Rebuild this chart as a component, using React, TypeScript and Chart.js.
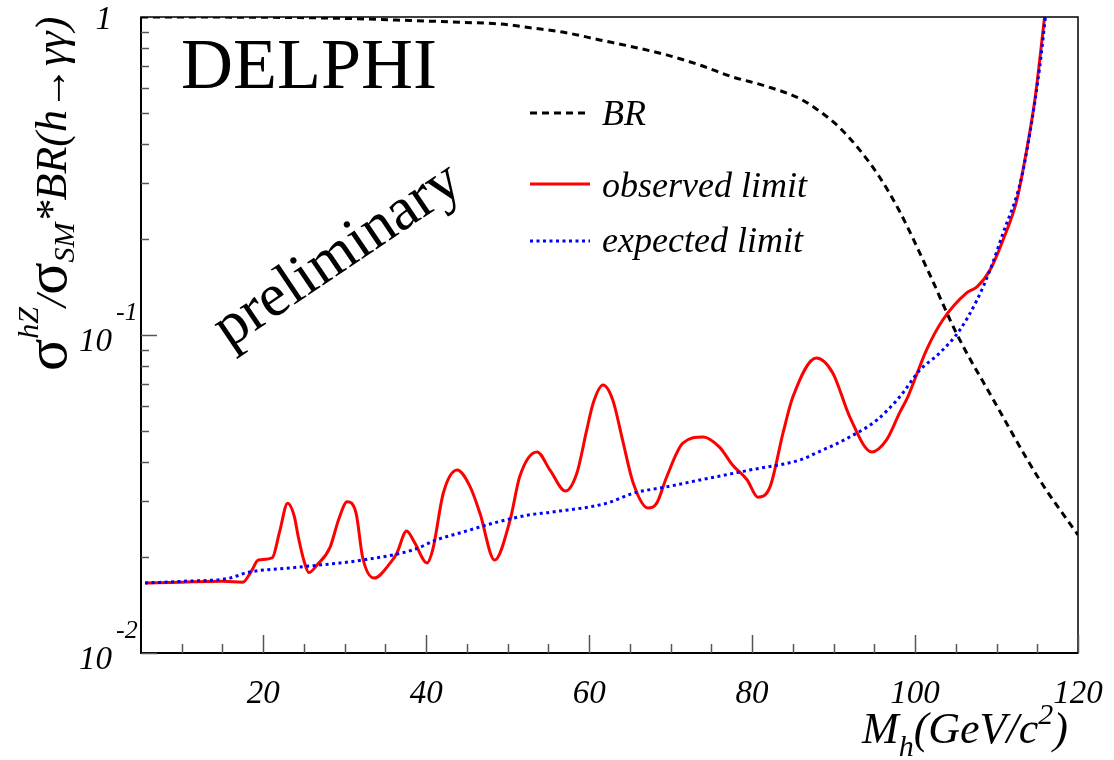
import React, { useEffect, useRef } from "react";
import { Chart, registerables } from "chart.js";

Chart.register(...registerables);

// ---------- data ----------
const obsMass = [
  5.5, 10, 15, 17.5, 18.5, 19.4, 21.1, 22.0, 23.0, 23.8, 24.3, 25.0, 25.6, 26.6, 28.2, 29.3, 30.3, 31.4,
  32.2, 33.6, 35.6, 36.4, 37.6, 38.6, 40.1, 40.8, 42.1, 43.8, 45.4, 46.6, 48.4, 50.3, 51.5, 53.6, 55.2,
  57.1, 58.5, 59.7, 60.5, 61.7, 62.9, 64.1, 65.4, 67.2, 68.3, 69.5, 71.5, 74.0, 76.0, 77.6, 79.4, 80.7,
  82.2, 83.8, 85.0, 87.9, 89.9, 92.0, 94.7, 96.5, 98.1, 99.1, 101.4, 103.4, 106.3, 107.6, 109.2, 110.8,
  112.5, 113.7, 114.7, 115.9,
];
const obsLimit = [
  0.0166, 0.0167, 0.0168, 0.0167, 0.018, 0.0196, 0.0199, 0.024, 0.0296, 0.027, 0.0232, 0.0195, 0.0179,
  0.0189, 0.0215, 0.0265, 0.0299, 0.0275, 0.02, 0.0172, 0.0192, 0.0206, 0.0242, 0.0222, 0.0192, 0.0211,
  0.0318, 0.0376, 0.0333, 0.0275, 0.0196, 0.0262, 0.036, 0.0429, 0.0376, 0.0323, 0.0368, 0.0502, 0.0611,
  0.0696, 0.0625, 0.0468, 0.0343, 0.0286, 0.0296, 0.0357, 0.0457, 0.0478, 0.0444, 0.039, 0.035, 0.0309,
  0.0333, 0.0492, 0.0638, 0.0847, 0.076, 0.0552, 0.0429, 0.0468, 0.0569, 0.0638, 0.0897, 0.1115, 0.1355,
  0.1416, 0.16, 0.199, 0.266, 0.382, 0.548, 1.0,
];

const expMass = [
  5.5, 10, 15.9, 18.0, 24.1, 32.2, 38.4, 41.3, 44.5, 48.7, 52.7, 55.2, 62.2, 65.4, 69.5, 73.6, 79.7, 85.9,
  87.9, 92.0, 95.3, 98.1, 100.6, 103.0, 105.5, 107.6, 109.2, 110.8, 112.9, 114.1, 115.3, 116.0,
];
const expLimit = [
  0.0166, 0.0168, 0.0172, 0.0179, 0.0186, 0.0196, 0.0211, 0.0227, 0.024, 0.0258, 0.0272, 0.0277, 0.0296,
  0.0318, 0.0333, 0.035, 0.0376, 0.0405, 0.0426, 0.0478, 0.054, 0.0638, 0.0776, 0.0877, 0.1037, 0.1288,
  0.16, 0.209, 0.3, 0.432, 0.696, 1.0,
];

const brMass = [
  5, 20, 30, 38, 44.5, 49, 53.1, 57.3, 61.3, 65.4, 69.5, 73.6, 77.6, 81.8, 85.9, 88.3, 90.7, 93.2, 95.6,
  98.1, 101.8, 105.1, 109.5, 115.3, 120,
];
const brValue = [
  1.0, 0.998, 0.99, 0.975, 0.962, 0.951, 0.923, 0.891, 0.847, 0.805, 0.76, 0.706, 0.648, 0.605, 0.553,
  0.505, 0.45, 0.382, 0.315, 0.245, 0.155, 0.101, 0.0633, 0.035, 0.0235,
];

const xTickValues = [20, 40, 60, 80, 100, 120];
const xMinorStep = 5;
const yDecades = [0.01, 0.1, 1];
const yDecadeBase = ["10", "10", "1"];
const yDecadeExp = ["-2", "-1", ""];

const seriesNames = ["BR", "observed limit", "expected limit"];

const SERIF = '"Liberation Serif", "Times New Roman", serif';

function toXY(xs: number[], ys: number[]) {
  return xs.map((x, i) => ({ x, y: ys[i] }));
}

const decorPlugin = {
  id: "decor",
  afterDraw(chart: any) {
    const ctx: CanvasRenderingContext2D = chart.ctx;
    const xs = chart.scales.x;
    const ys = chart.scales.y;
    const area = chart.chartArea;

    ctx.save();
    // frame
    ctx.strokeStyle = "#000";
    ctx.lineWidth = 1.5;
    ctx.strokeRect(area.left, area.top, area.right - area.left, area.bottom - area.top);
    ctx.lineWidth = 2;
    ctx.beginPath();
    ctx.moveTo(area.left, area.top);
    ctx.lineTo(area.left, area.bottom);
    ctx.lineTo(area.right, area.bottom);
    ctx.stroke();

    // bottom ticks (inside)
    ctx.strokeStyle = "#555";
    ctx.lineWidth = 1.5;
    for (let v = 10; v <= 120; v += xMinorStep) {
      const px = Math.round(xs.getPixelForValue(v)) + 0.5;
      const major = xTickValues.includes(v);
      const len = major ? 18 : 9;
      ctx.beginPath();
      ctx.moveTo(px, area.bottom);
      ctx.lineTo(px, area.bottom - len);
      ctx.stroke();
    }
    // left ticks (inside)
    for (let d = 0; d < yDecades.length - 1; d++) {
      for (let m = 1; m <= 9; m++) {
        const v = yDecades[d] * m;
        const py = Math.round(ys.getPixelForValue(v)) + 0.5;
        const len = m === 1 ? 16 : 8;
        ctx.beginPath();
        ctx.moveTo(area.left, py);
        ctx.lineTo(area.left + len, py);
        ctx.stroke();
      }
    }

    // x tick labels
    ctx.fillStyle = "#000";
    ctx.font = `italic 33px ${SERIF}`;
    ctx.textAlign = "center";
    ctx.textBaseline = "alphabetic";
    xTickValues.forEach((v) => {
      ctx.fillText(String(v), xs.getPixelForValue(v), 703);
    });

    // y decade labels
    yDecades.forEach((v, i) => {
      const py = ys.getPixelForValue(v);
      ctx.font = `italic 33px ${SERIF}`;
      ctx.textAlign = "right";
      const baseY = i === yDecades.length - 1 ? py + 12 : py + 16;
      ctx.fillText(yDecadeBase[i], 112, baseY);
      if (yDecadeExp[i]) {
        ctx.font = `italic 26px ${SERIF}`;
        ctx.textAlign = "left";
        ctx.fillText(yDecadeExp[i], 116, py - 15);
      }
    });

    // x axis title: M_h(GeV/c^2)
    {
      let x = 862;
      const base = 743;
      const seg = (t: string, size: number, dy: number) => {
        ctx.font = `italic ${size}px ${SERIF}`;
        ctx.textAlign = "left";
        ctx.fillText(t, x, base + dy);
        x += ctx.measureText(t).width;
      };
      seg("M", 44, 0);
      seg("h", 30, 13);
      seg("(GeV/c", 44, 0);
      seg("2", 30, -19);
      seg(")", 44, 0);
    }

    // y axis title
    {
      ctx.save();
      ctx.translate(66, 371);
      ctx.rotate(-Math.PI / 2);
      ctx.textAlign = "left";
      let x = 0;
      const seg = (t: string, font: string, dy: number) => {
        ctx.font = font;
        ctx.fillText(t, x, dy);
        x += ctx.measureText(t).width;
      };
      seg("σ", `60px ${SERIF}`, 0);
      seg("hZ", `italic 30px ${SERIF}`, -28);
      seg("/", `italic 44px ${SERIF}`, 0);
      seg("σ", `60px ${SERIF}`, 0);
      seg("SM", `italic 30px ${SERIF}`, 8);
      seg("*BR(h→γγ)", `italic 44px ${SERIF}`, 0);
      ctx.restore();
    }

    // DELPHI
    ctx.font = `72px ${SERIF}`;
    ctx.textAlign = "left";
    ctx.fillText("DELPHI", 181, 88);

    // preliminary
    ctx.save();
    ctx.translate(338, 256);
    ctx.rotate((-34 * Math.PI) / 180);
    ctx.font = `61px ${SERIF}`;
    ctx.textAlign = "center";
    ctx.textBaseline = "middle";
    ctx.fillText("preliminary", 0, 0);
    ctx.restore();

    // legend
    const legendRows = [
      { ds: 2, y: 113, ty: 125 },
      { ds: 1, y: 184, ty: 197 },
      { ds: 0, y: 241, ty: 252 },
    ];
    legendRows.forEach((r) => {
      const ds = chart.data.datasets[r.ds];
      ctx.strokeStyle = ds.borderColor;
      ctx.lineWidth = ds.borderWidth;
      ctx.setLineDash(ds.borderDash || []);
      ctx.beginPath();
      ctx.moveTo(530, r.y);
      ctx.lineTo(590, r.y);
      ctx.stroke();
      ctx.setLineDash([]);
      ctx.fillStyle = "#000";
      ctx.font = `italic 36px ${SERIF}`;
      ctx.textAlign = "left";
      ctx.textBaseline = "alphabetic";
      ctx.fillText(ds.label, 602, r.ty);
    });

    ctx.restore();
  },
};

export default function App() {
  const ref = useRef<HTMLCanvasElement | null>(null);

  useEffect(() => {
    if (!ref.current) return;
    const chart = new Chart(ref.current, {
      type: "line",
      data: {
        datasets: [
          {
            label: seriesNames[2],
            data: toXY(expMass, expLimit),
            borderColor: "#0000ff",
            borderWidth: 3,
            borderDash: [3, 3.5],
            pointRadius: 0,
            cubicInterpolationMode: "monotone",
            fill: false,
          },
          {
            label: seriesNames[1],
            data: toXY(obsMass, obsLimit),
            borderColor: "#ff0000",
            borderWidth: 3,
            pointRadius: 0,
            cubicInterpolationMode: "monotone",
            fill: false,
          },
          {
            label: seriesNames[0],
            data: toXY(brMass, brValue),
            borderColor: "#000000",
            borderWidth: 3,
            borderDash: [7, 5],
            pointRadius: 0,
            cubicInterpolationMode: "monotone",
            fill: false,
          },
        ],
      },
      options: {
        responsive: false,
        animation: false,
        layout: { padding: { left: 0, top: 17, right: 36, bottom: 0 } },
        plugins: { legend: { display: false }, tooltip: { enabled: false } },
        scales: {
          x: {
            type: "linear",
            min: 5,
            max: 120,
            grid: { display: false, drawTicks: false },
            border: { display: false },
            ticks: { display: false },
            afterFit: (s: any) => {
              s.height = 107;
            },
          },
          y: {
            type: "logarithmic",
            min: 0.01,
            max: 1,
            grid: { display: false, drawTicks: false },
            border: { display: false },
            ticks: { display: false },
            afterFit: (s: any) => {
              s.width = 141;
            },
          },
        },
      },
      plugins: [decorPlugin],
    } as any);
    return () => chart.destroy();
  }, []);

  return (
    <div style={{ position: "absolute", left: 0, top: 0, width: 1114, height: 760, background: "#fff" }}>
      <canvas ref={ref} width={1114} height={760} style={{ display: "block" }} />
    </div>
  );
}
